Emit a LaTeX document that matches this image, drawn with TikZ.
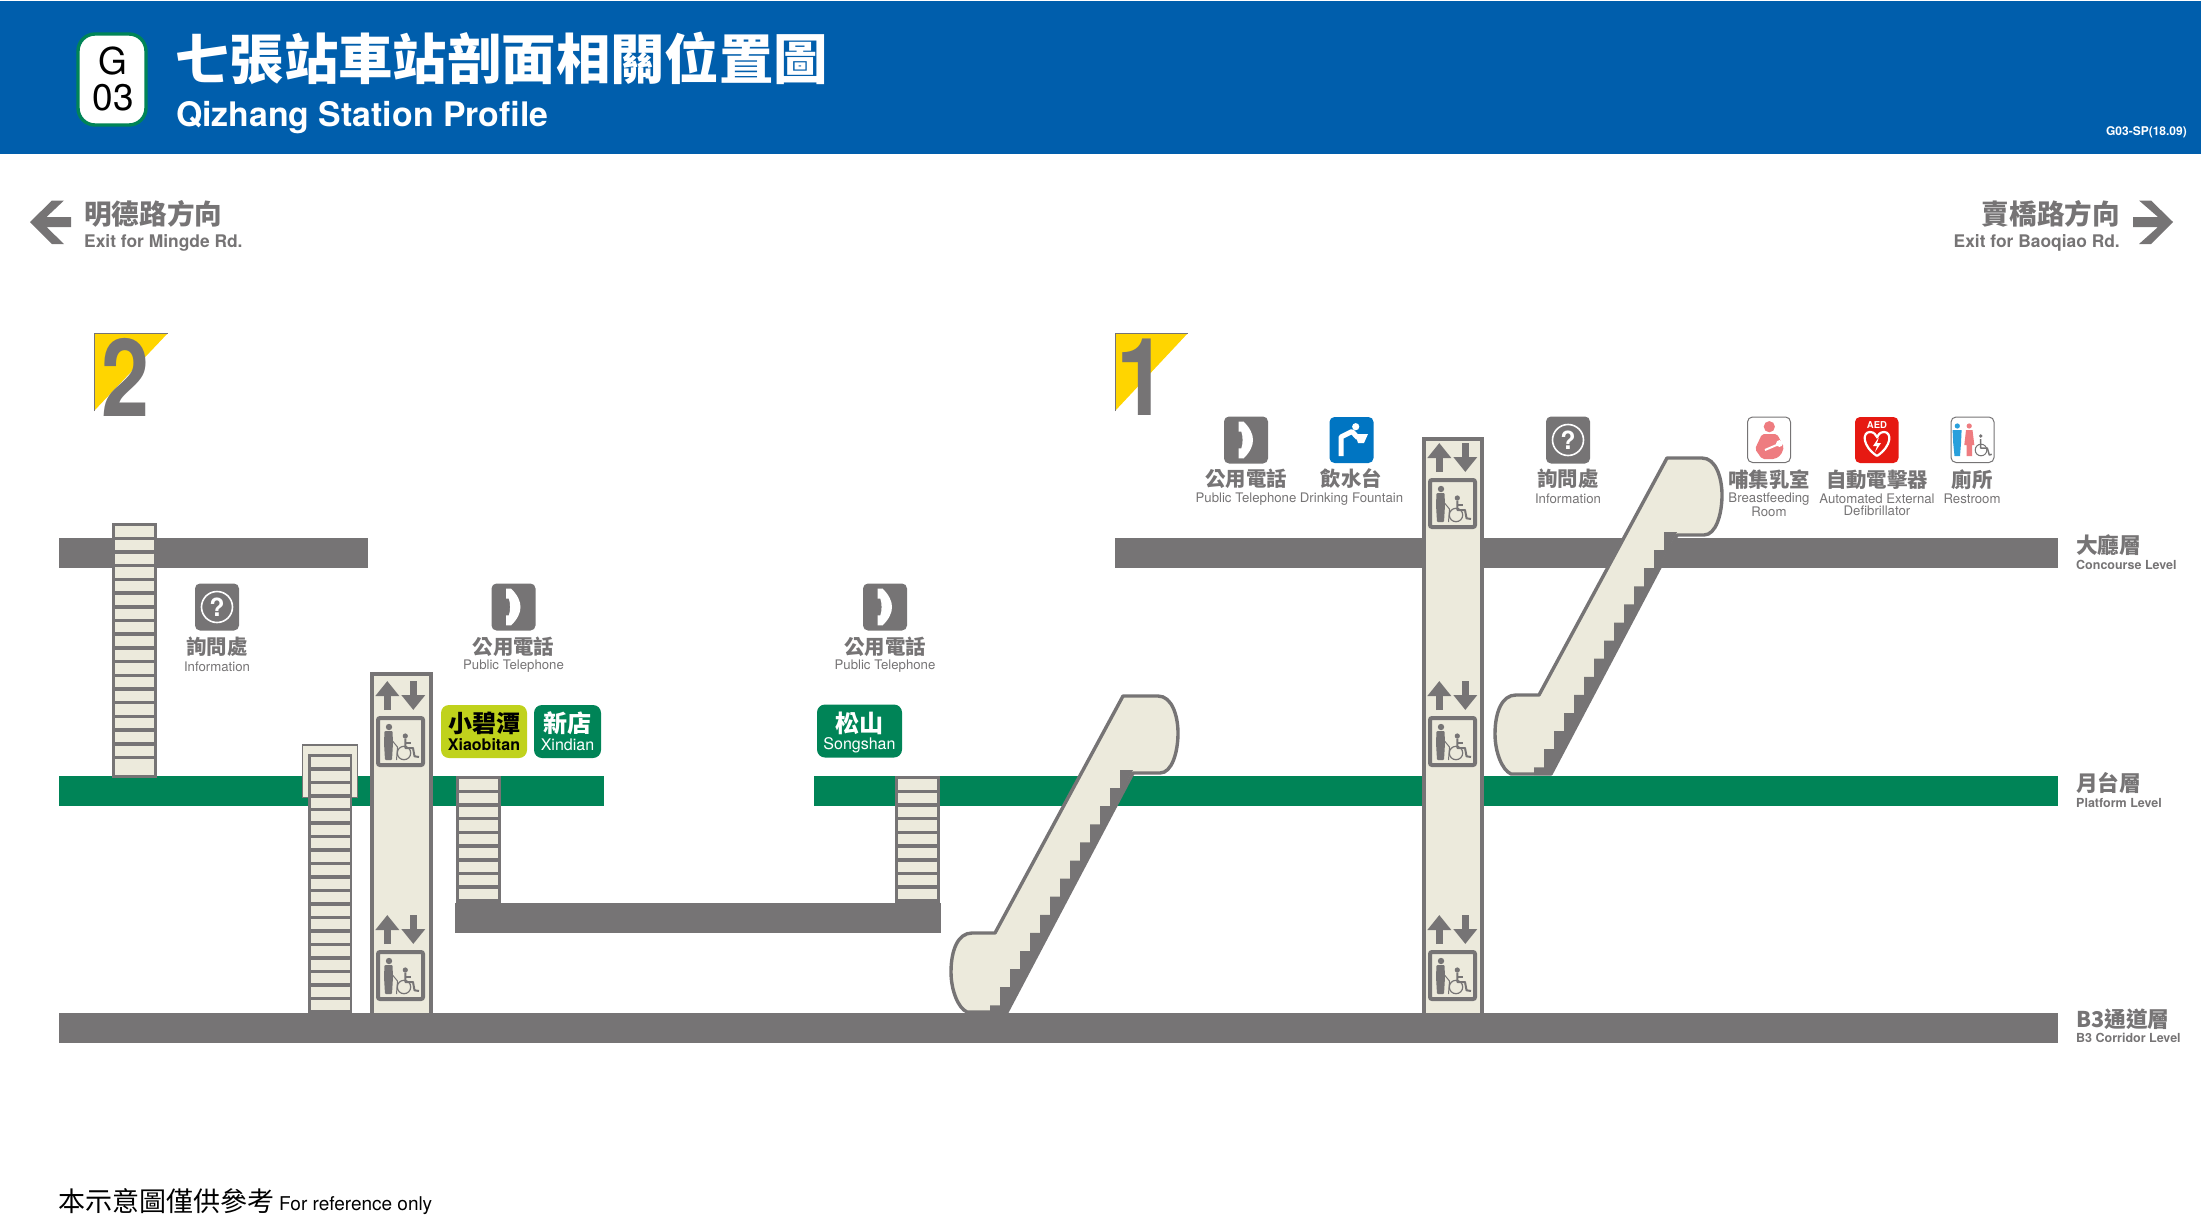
\documentclass[tikz,border=0pt]{standalone}
\usepackage{fontspec}
\setmainfont{TeX Gyre Heros}
\newfontfamily\cjk{Noto Sans CJK TC}
\usetikzlibrary{arrows.meta}
\definecolor{headblue}{RGB}{0, 94, 172}
\definecolor{lvlgray}{RGB}{118, 116, 117}
\definecolor{linegreen}{RGB}{0, 132, 87}
\definecolor{lime}{RGB}{192, 210, 28}
\definecolor{cream}{RGB}{236, 234, 220}
\definecolor{signyellow}{RGB}{255, 213, 0}
\definecolor{fountblue}{RGB}{0, 117, 194}
\definecolor{aedred}{RGB}{230, 25, 18}
\definecolor{nurspink}{RGB}{238, 124, 128}
\definecolor{wcblue}{RGB}{40, 160, 220}

\begin{document}
\begin{tikzpicture}[
    x=1pt, y=-1pt,
    lvl/.style      = {fill=lvlgray, draw=none},
    plat/.style     = {fill=linegreen, draw=none},
    zh/.style       = {font=\fontsize{20.4}{22}\selectfont\cjk\bfseries\color{lvlgray}, inner sep=0pt},
    en/.style       = {font=\fontsize{13.2}{15}\selectfont\color{lvlgray}, inner sep=0pt, align=center},
    lvlzh/.style    = {font=\fontsize{21.7}{24}\selectfont\cjk\bfseries\color{lvlgray}, inner sep=0pt, anchor=west},
    lvlen/.style    = {font=\fontsize{12.5}{15}\selectfont\bfseries\color{lvlgray}, inner sep=0pt, anchor=west},
    stairbg/.style  = {fill=lvlgray, draw=none},
    tread/.style    = {color=cream, line width=39pt, dash pattern=on 10.2pt off 3.5pt},
    treadend/.style = {color=cream, line width=39pt},
    shaft/.style    = {draw=lvlgray, line width=4pt},
    escal/.style    = {fill=cream, draw=lvlgray, line width=3.4pt, line join=round},
    rail/.style     = {fill=lvlgray, draw=none},
    tag/.style      = {inner sep=0pt, rounded corners=8pt},
    tagzh/.style    = {font=\fontsize{24}{26}\selectfont\cjk\bfseries, inner sep=0pt},
    tagen/.style    = {font=\fontsize{16}{18}\selectfont, inner sep=0pt},
    exitmark/.style = {fill=signyellow},
    markedge/.style = {draw=lvlgray, line width=0.8pt},
    marknum/.style  = {font=\fontsize{108}{112}\selectfont\bfseries\color{lvlgray}, inner sep=0pt},
    exitzh/.style   = {font=\fontsize{27.6}{30}\selectfont\cjk\bfseries\color{lvlgray}, inner sep=0pt},
    exiten/.style   = {font=\fontsize{17.4}{20}\selectfont\bfseries\color{lvlgray}, inner sep=0pt},
    liftunit/.pic = {
      % arrows
      \draw[lvlgray, line width=6.5pt, -{Triangle[length=15pt, width=23pt]}] (-13.2,29) -- (-13.2,0);
      \draw[lvlgray, line width=6.5pt, -{Triangle[length=15pt, width=23pt]}] (12.8,0) -- (12.8,29);
      % cabin
      \draw[lvlgray, line width=4pt, rounded corners=2pt] (-22.5,37) rectangle (22.5,84);
      % person
      \fill[lvlgray] (-11.5,46) circle (3.2pt);
      \fill[lvlgray, rounded corners=1pt] (-16,50) -- (-8,50) -- (-7.5,62) -- (-8.5,79) -- (-15.5,79) -- (-16.5,62) -- cycle;
      \draw[lvlgray, line width=1pt] (-8,60) -- (-3,66) -- (-4,79);
      % wheelchair
      \fill[lvlgray] (4.8,55) circle (2.6pt);
      \draw[lvlgray, line width=1.2pt] (3.5,72) circle (6.7pt);
      \draw[lvlgray, line width=2pt, line join=round] (4.8,57.7) -- (4.8,67) -- (12.5,67) -- (14,75.3) -- (18.5,76);
      \draw[lvlgray, line width=1.5pt] (4.8,62) -- (10,62);
    },
    phoneicon/.pic = {
      \fill[lvlgray, rounded corners=5pt] (-22,-23.5) rectangle (22,23.5);
      \fill[white] (-7.3,-18.3) -- (-2.3,-18.3) .. controls (4,-12) and (7,-6) .. (7,0) .. controls (7,6) and (4,12) .. (-2.3,18.3) -- (-7.3,18.3) -- (-7.3,8.3) -- (-4.7,8.3) .. controls (-3,4) and (-3,-4) .. (-4.7,-8.3) -- (-7.3,-8.3) -- cycle;
    },
    infoicon/.pic = {
      \fill[lvlgray, rounded corners=5pt] (-22,-23.5) rectangle (22,23.5);
      \draw[white, line width=1.6pt] (0,0) circle (15.5pt);
      \node[font=\fontsize{25}{25}\selectfont\bfseries\color{white}, inner sep=0pt] (-qmark) at (0,0) {?};
    },
  ]
    \useasboundingbox (0,0) rectangle (2201,1231);

    % --- header ---
    \fill[headblue] (0,1) rectangle (2201,154);
    \draw[linegreen, fill=white, line width=3.4pt, rounded corners=17pt] (78,34) rectangle (146,125);
    \node[font=\fontsize{37}{40}\selectfont, inner sep=0pt] (bdgG) at (113,61.5) {G};
    \node[font=\fontsize{37}{40}\selectfont, inner sep=0pt] (bdgNum) at (113,98) {03};
    \node[font=\fontsize{54.4}{60}\selectfont\cjk\bfseries\color{white}, inner sep=0pt, anchor=west] (titleZh) at (175,58) {七張站車站剖面相關位置圖};
    \node[font=\fontsize{33.8}{38}\selectfont\bfseries\color{white}, inner sep=0pt, anchor=west] (titleEn) at (176,118) {Qizhang Station Profile};
    \node[font=\fontsize{12}{14}\selectfont\bfseries\color{white}, inner sep=0pt, anchor=east] (docNo) at (2187,132) {G03-SP(18.09)};

    % --- exits ---
    \fill[lvlgray] (30,222) -- (52,200.5) -- (64,200.5) -- (46.5,217) -- (71,217) -- (71,227) -- (46.5,227) -- (64,244) -- (52,244) -- cycle;
    \node[exitzh, anchor=west] (exitLzh) at (84,214) {明德路方向};
    \node[exiten, anchor=west] (exitLen) at (84,243) {Exit for Mingde Rd.};
    \fill[lvlgray] (2173,222) -- (2151,200.5) -- (2139,200.5) -- (2158,217) -- (2133,217) -- (2133,227) -- (2158,227) -- (2139,244) -- (2151,244) -- cycle;
    \node[exitzh, anchor=east] (exitRzh) at (2120,214) {賣橋路方向};
    \node[exiten, anchor=east] (exitRen) at (2120,243) {Exit for Baoqiao Rd.};

    % --- exit marks ---
    \fill[exitmark] (94,411) -- (94,333) -- (168,333) -- cycle;
    \draw[markedge] (94,411) -- (94,333) -- (168,333);
    \node[marknum] (mark2) at (125.5,377) {\scalebox{.8}[1]{2}};
    \fill[exitmark] (1115,411) -- (1115,333) -- (1188,333) -- cycle;
    \draw[markedge] (1115,411) -- (1115,333) -- (1188,333);
    \node[marknum] (mark1) at (1142.5,377) {\scalebox{.85}[1]{1}};

    % --- levels ---
    \fill[lvl] (59,538) rectangle (368,568);
    \fill[lvl] (1115,538) rectangle (2058,568);
    \fill[plat] (59,776) rectangle (603.5,806);
    \fill[plat] (814,776) rectangle (2058,806);
    \fill[lvl] (455,903) rectangle (941,933);
    \fill[lvl] (59,1013) rectangle (2058,1043);

    \node[lvlzh] (lvl1zh) at (2076,545) {大廳層};
    \node[lvlen] (lvl1en) at (2076,564.5) {Concourse Level};
    \node[lvlzh] (lvl2zh) at (2076,783) {月台層};
    \node[lvlen] (lvl2en) at (2076,802.5) {Platform Level};
    \node[lvlzh] (lvl3zh) at (2076,1019) {B3通道層};
    \node[lvlen] (lvl3en) at (2076,1038) {B3 Corridor Level};

    % --- stairs ---
    % exit 2, concourse to platform
    \fill[stairbg] (112,523) rectangle (157,778);
    \draw[tread] (134.5,526.3) -- (134.5,756);
    \draw[treadend] (134.5,759.2) -- (134.5,775);
    % platform to corridor, with cover
    \draw[fill=cream, draw=lvlgray, line width=1.6pt] (302.5,745) rectangle (357.5,797.5);
    \fill[stairbg] (308,754) rectangle (352,1013);
    \draw[tread, dash pattern=on 10pt off 3.5pt] (330,757) -- (330,1010);
    % island stairs
    \fill[stairbg] (456,776) rectangle (501,903);
    \draw[tread] (478.5,779.3) -- (478.5,900);
    \fill[stairbg] (895,776) rectangle (939.5,903);
    \draw[tread] (917.2,779.3) -- (917.2,900);

    % --- lifts ---
    \fill[cream] (371.5,673.5) rectangle (430.5,1013);
    \draw[shaft] (371.5,1013) -- (371.5,673.5) -- (430.5,673.5) -- (430.5,1013);
    \pic at (400.5,681) {liftunit};
    \pic at (400.5,915) {liftunit};

    \fill[cream] (1423.5,438.5) rectangle (1481.5,1013);
    \draw[shaft] (1423.5,1013) -- (1423.5,438.5) -- (1481.5,438.5) -- (1481.5,1013);
    \pic at (1452.5,443) {liftunit};
    \pic at (1452.5,681) {liftunit};
    \pic at (1452.5,915) {liftunit};

    % --- escalators ---
    % platform to corridor
    \draw[escal] (1123,696) -- (1158,696) .. controls (1172,696) and (1178,716) .. (1178,733) .. controls (1178,752) and (1172,773) .. (1160,773) -- (1133,773) -- (1007,1012) -- (967,1012) .. controls (958,1008) and (951,990) .. (951,972) .. controls (951,950) and (958,933) .. (972,933) -- (995,933) -- cycle;
    \fill[rail] (1133,770) -- (1120,770) -- ++(0,18.1) -- ++(-10,0) -- ++(0,18.1) -- ++(-10,0) -- ++(0,18.1) -- ++(-10,0) -- ++(0,18.1) -- ++(-10,0) -- ++(0,18.1) -- ++(-10,0) -- ++(0,18.1) -- ++(-10,0) -- ++(0,18.1) -- ++(-10,0) -- ++(0,18.1) -- ++(-10,0) -- ++(0,18.1) -- ++(-10,0) -- ++(0,18.1) -- ++(-10,0) -- ++(0,18.1) -- ++(-10,0) -- ++(0,18.1) -- ++(-10,0) -- ++(0,18.1) -- ++(-10,0) -- (990,1013) -- (1007,1013) -- cycle;
    % concourse to platform
    \draw[escal] (1667,458) -- (1702,458) .. controls (1716,458) and (1722,478) .. (1722,495) .. controls (1722,514) and (1716,535) .. (1704,535) -- (1677,535) -- (1551,774) -- (1511,774) .. controls (1502,770) and (1495,752) .. (1495,734) .. controls (1495,712) and (1502,695) .. (1516,695) -- (1539,695) -- cycle;
    \fill[rail] (1677,532) -- (1664,532) -- ++(0,18.1) -- ++(-10,0) -- ++(0,18.1) -- ++(-10,0) -- ++(0,18.1) -- ++(-10,0) -- ++(0,18.1) -- ++(-10,0) -- ++(0,18.1) -- ++(-10,0) -- ++(0,18.1) -- ++(-10,0) -- ++(0,18.1) -- ++(-10,0) -- ++(0,18.1) -- ++(-10,0) -- ++(0,18.1) -- ++(-10,0) -- ++(0,18.1) -- ++(-10,0) -- ++(0,18.1) -- ++(-10,0) -- ++(0,18.1) -- ++(-10,0) -- ++(0,18.1) -- ++(-10,0) -- (1534,775) -- (1551,775) -- cycle;

    % --- line tags ---
    \node[tag, fill=lime, minimum width=86pt, minimum height=53pt] (tagXb) at (484,731.5) {};
    \node[tagzh] (tagXbzh) at (484,723.5) {小碧潭};
    \node[tagen, font=\fontsize{16}{18}\selectfont\bfseries] (tagXben) at (484,745) {Xiaobitan};
    \node[tag, fill=linegreen, minimum width=67pt, minimum height=53pt] (tagXd) at (567.5,731.5) {};
    \node[tagzh, text=white] (tagXdzh) at (567.5,723.5) {新店};
    \node[tagen, text=white] (tagXden) at (567.5,745) {Xindian};
    \node[tag, fill=linegreen, minimum width=85pt, minimum height=53pt] (tagSs) at (859.5,731) {};
    \node[tagzh, text=white] (tagSszh) at (859.5,723.5) {松山};
    \node[tagen, text=white] (tagSsen) at (859.5,745) {Songshan};

    % --- facilities, lower row ---
    \pic (infoL) at (217,607) {infoicon};
    \node[zh] (infoLzh) at (217,647) {詢問處};
    \node[en] (infoLen) at (217,666.5) {Information};
    \pic at (513.5,607) {phoneicon};
    \node[zh] (telLzh) at (513.5,647) {公用電話};
    \node[en] (telLen) at (513.5,666.5) {Public Telephone};
    \pic at (885,607) {phoneicon};
    \node[zh] (telRzh) at (885,647) {公用電話};
    \node[en] (telRen) at (885,666.5) {Public Telephone};

    % --- facilities, upper row ---
    \pic at (1246,440) {phoneicon};
    \node[zh] (telTzh) at (1246,479) {公用電話};
    \node[en] (telTen) at (1246,499) {Public Telephone};

    \fill[fountblue, rounded corners=5pt] (1329.5,417) rectangle (1373.5,463);
    \fill[white] (1355.7,426.7) circle (3.6pt);
    \draw[white, line width=5pt, line join=round] (1341,456) -- (1341,437) -- (1352,431.5) -- (1358,438);
    \fill[white] (1355,434) -- (1368,434) -- (1364,443) -- (1358,443) -- cycle;
    \node[zh] (fntzh) at (1351.5,479) {飲水台};
    \node[en] (fnten) at (1351.5,499) {Drinking Fountain};

    \pic (infoT) at (1568,440) {infoicon};
    \node[zh] (infoTzh) at (1568,479) {詢問處};
    \node[en] (infoTen) at (1568,499) {Information};

    \draw[fill=white, draw=lvlgray, line width=1pt, rounded corners=5pt] (1747.5,417) rectangle (1790.5,462.5);
    \fill[nurspink] (1769.3,426.7) circle (5.6pt);
    \fill[nurspink, rounded corners=2pt] (1762,434) -- (1777,434) -- (1784,447) -- (1781,455) -- (1775,459) -- (1762,459) -- (1755,449) -- cycle;
    \draw[white, line width=2pt] (1765,450) -- (1779,444);
    \fill[white] (1779.5,443.5) circle (3.4pt);
    \node[zh] (nurszh) at (1769,480) {哺集乳室};
    \node[en, font=\fontsize{13.2}{12.5}\selectfont\color{lvlgray}] (nursen) at (1769,505) {Breastfeeding\\Room};

    \fill[aedred, rounded corners=5pt] (1855,417) rectangle (1898.5,463);
    \node[font=\fontsize{9.5}{10}\selectfont\bfseries\color{white}, inner sep=0pt] (aedtxt) at (1877,425) {AED};
    \draw[white, line width=2.2pt] (1877,456) .. controls (1862,446) and (1862,432) .. (1870,432) .. controls (1874,432) and (1876,435) .. (1877,437) .. controls (1878,435) and (1880,432) .. (1884,432) .. controls (1892,432) and (1892,446) .. (1877,456);
    \fill[white] (1879,437) -- (1873,446) -- (1877,446) -- (1875,452) -- (1881,443) -- (1877,443) -- cycle;
    \node[zh] (aedzh) at (1877,480) {自動電擊器};
    \node[en, font=\fontsize{13.2}{12.5}\selectfont\color{lvlgray}] (aeden) at (1877,505) {Automated External\\Defibrillator};

    \draw[fill=white, draw=lvlgray, line width=1pt, rounded corners=5pt] (1951,417) rectangle (1994,462.5);
    \fill[wcblue] (1957.3,426) circle (2.6pt);
    \fill[wcblue] (1952.6,430) -- (1961.6,430) -- (1961,443) -- (1960,456) -- (1954.5,456) -- (1953.2,443) -- cycle;
    \fill[nurspink] (1969.2,426) circle (2.6pt);
    \fill[nurspink] (1966,430) -- (1972.5,430) -- (1974.3,445) -- (1972,445) -- (1972,456) -- (1966.5,456) -- (1966.5,445) -- (1964.3,445) -- cycle;
    \fill[lvlgray] (1980.7,436) circle (1.8pt);
    \draw[lvlgray, line width=1pt] (1981,450) circle (5.8pt);
    \draw[lvlgray, line width=1.5pt, line join=round] (1980.7,439) -- (1980.7,448) -- (1987.3,448) -- (1989.3,455) -- (1991.7,454.3);
    \node[zh] (wczh) at (1972,480) {廁所};
    \node[en] (wcen) at (1972,499) {Restroom};

    % --- footer ---
    \node[font=\fontsize{27}{30}\selectfont\cjk, inner sep=0pt, anchor=west] (noteZh) at (58,1201) {本示意圖僅供參考};
    \node[font=\fontsize{19}{24}\selectfont, inner sep=0pt, anchor=west] (noteEn) at (279,1206) {For reference only};
\end{tikzpicture}
\end{document}
